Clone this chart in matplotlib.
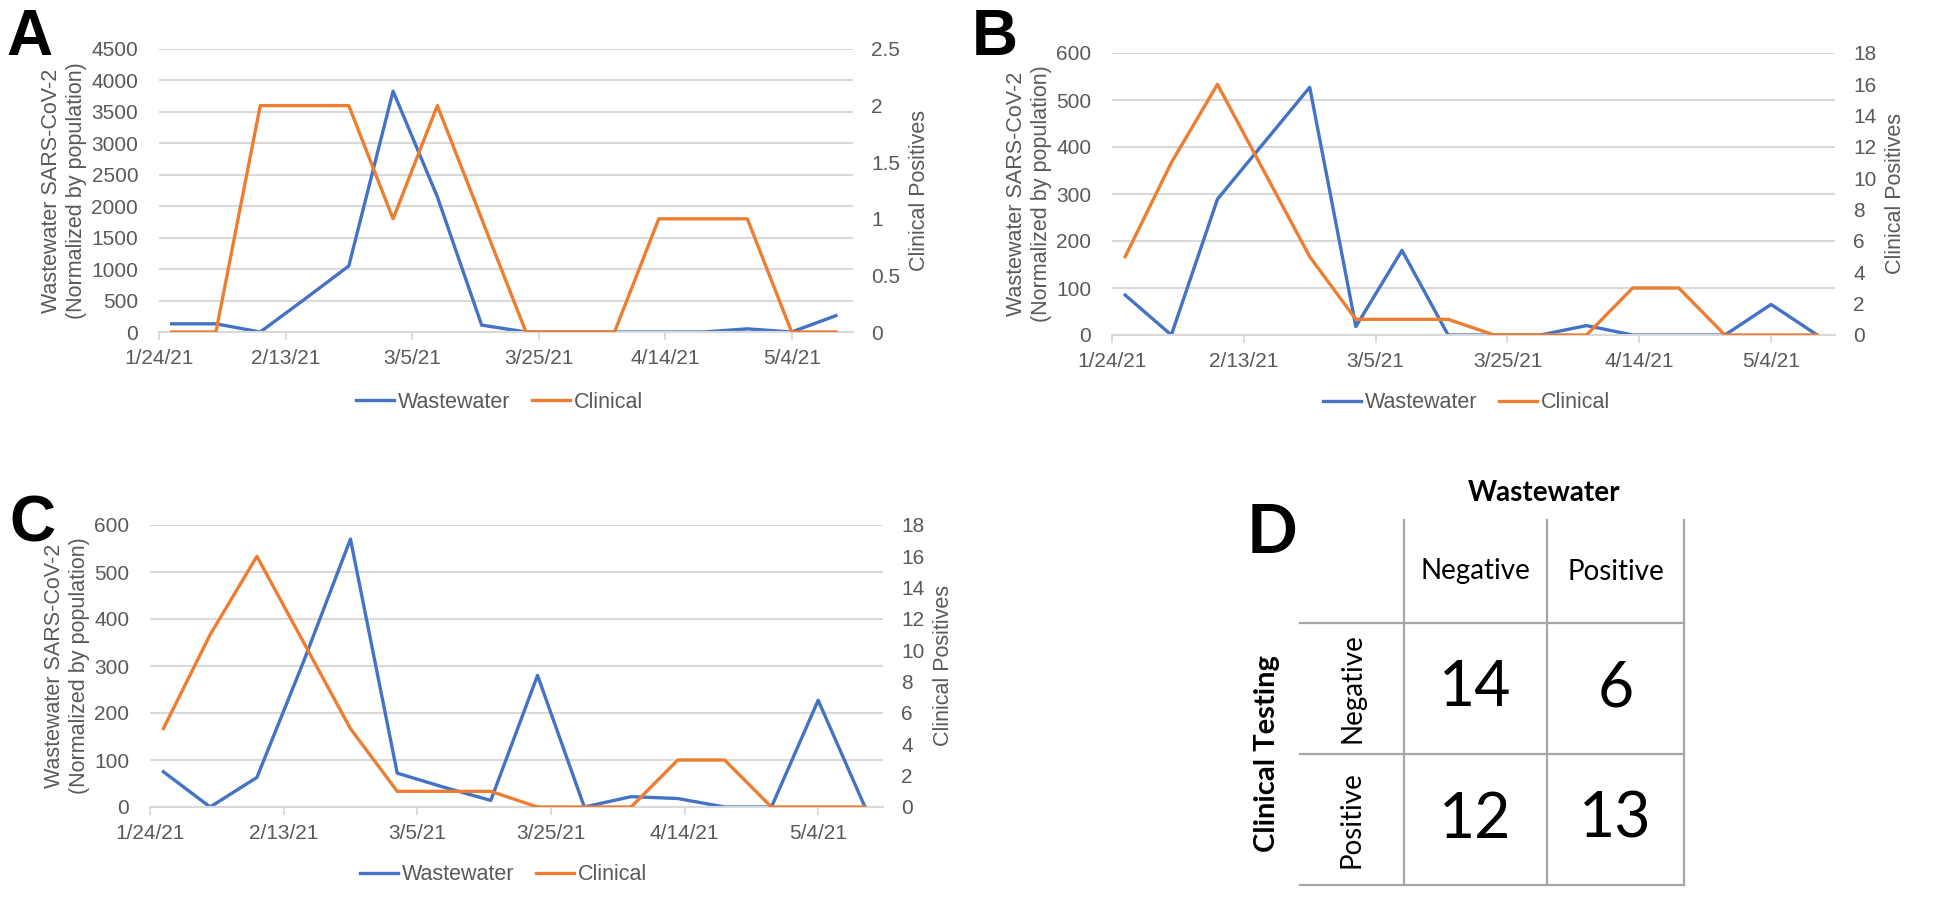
import matplotlib
matplotlib.use("Agg")
import matplotlib.pyplot as plt
import pandas as pd

plt.rcParams['font.family'] = ['Liberation Sans', 'DejaVu Sans']

# weekly sampling dates shared by the three sites
sample_dates = ["1/26/21", "2/2/21", "2/9/21", "2/16/21", "2/23/21", "3/2/21", "3/9/21", "3/16/21",
                "3/23/21", "3/30/21", "4/6/21", "4/13/21", "4/20/21", "4/27/21", "5/4/21", "5/11/21"]
date_ticks = ["1/24/21", "2/13/21", "3/5/21", "3/25/21", "4/14/21", "5/4/21"]

# A
a_wastewater = [130, 130, 0, 520, 1050, 3830, 2150, 110, 0, 0, 0, 0, 0, 50, 0, 260]
a_clinical = [0, 0, 2, 2, 2, 1, 2, 1, 0, 0, 0, 1, 1, 1, 0, 0]
a_left_ticks = [0, 500, 1000, 1500, 2000, 2500, 3000, 3500, 4000, 4500]
a_right_ticks = [0, 0.5, 1, 1.5, 2, 2.5]
a_right_labels = ["0", "0.5", "1", "1.5", "2", "2.5"]

# B
b_wastewater = [85, 0, 289, 408, 527, 18, 180, 0, 0, 0, 20, 0, 0, 0, 65, 0]
b_clinical = [5, 11, 16, 10.5, 5, 1, 1, 1, 0, 0, 0, 3, 3, 0, 0, 0]

# C
c_wastewater = [75, 0, 63, 310, 570, 72, 42, 14, 280, 0, 22, 18, 0, 0, 227, 0]
c_clinical = [5, 11, 16, 10.5, 5, 1, 1, 1, 0, 0, 0, 3, 3, 0, 0, 0]

bc_left_ticks = [0, 100, 200, 300, 400, 500, 600]
bc_right_ticks = [0, 2, 4, 6, 8, 10, 12, 14, 16, 18]
bc_right_labels = [str(t) for t in bc_right_ticks]

# D  (rows: clinical testing, cols: wastewater)
d_levels = ["Negative", "Positive"]
d_counts = [[14, 6],
            [12, 13]]

BLUE = "#4472C4"
ORANGE = "#ED7D31"
TXT = "#595959"
GRID = "#D9D9D9"
W, H = 1950, 906

dates = pd.to_datetime(sample_dates, format="%m/%d/%y")
tick_pos = pd.to_datetime(date_ticks, format="%m/%d/%y")
x_start = pd.Timestamp("2021-01-24")
x_end = x_start + pd.Timedelta(days=109.7)

fig = plt.figure(figsize=(19.5, 9.06), dpi=100)

# canvas in pixel units for the table and panel letters
axd = fig.add_axes([0, 0, 1, 1])
axd.set_xlim(0, W)
axd.set_ylim(H, 0)
axd.axis("off")


def panel(px, ww, cl, lticks, rticks, rlabels, leg_xy, letter, letter_xy):
    x0, y_top, x1, y_bot = px
    ax = fig.add_axes([x0 / W, 1 - y_bot / H, (x1 - x0) / W, (y_bot - y_top) / H])
    ax2 = ax.twinx()
    l1, = ax.plot(dates, ww, color=BLUE, lw=2.4)
    l2, = ax2.plot(dates, cl, color=ORANGE, lw=2.4)

    ax.set_xlim(x_start, x_end)
    ax.set_ylim(0, lticks[-1])
    ax.set_yticks(lticks)
    ax2.set_ylim(0, rticks[-1])
    ax2.set_yticks(rticks)
    ax2.set_yticklabels(rlabels)
    ax.set_xticks(tick_pos)
    ax.set_xticklabels(date_ticks)

    ax.grid(axis="y", color=GRID, lw=1.5)
    ax.set_axisbelow(True)
    for s in ax.spines.values():
        s.set_visible(False)
    for s in ax2.spines.values():
        s.set_visible(False)
    ax.spines["bottom"].set_visible(True)
    ax.spines["bottom"].set_color(GRID)
    ax.spines["bottom"].set_linewidth(1.5)

    ax.tick_params(axis="y", length=0, pad=15, labelsize=15, labelcolor=TXT)
    ax2.tick_params(axis="y", length=0, pad=13, labelsize=15, labelcolor=TXT)
    ax.tick_params(axis="x", length=6, width=1.3, color=GRID, pad=6, labelsize=15, labelcolor=TXT)

    ax.set_ylabel("Wastewater SARS-CoV-2\n(Normalized by population)", fontsize=15.5,
                  color=TXT, labelpad=3, linespacing=1.25)
    ax2.set_ylabel("Clinical Positives", fontsize=15.5, color=TXT, labelpad=6)

    fig.legend(handles=[l1, l2], labels=["Wastewater", "Clinical"], loc="center",
               bbox_to_anchor=(leg_xy[0] / W, 1 - leg_xy[1] / H), ncol=2, frameon=False,
               fontsize=15.5, handlelength=1.75, handletextpad=0.2, columnspacing=1.0,
               labelcolor=TXT)

    axd.text(letter_xy[0], letter_xy[1], letter, fontsize=46, fontweight="bold",
             ha="left", va="baseline", color="black")


panel((159, 49, 853, 332), a_wastewater, a_clinical, a_left_ticks, a_right_ticks,
      a_right_labels, (500, 402), "A", (6, 55))
panel((1112, 53, 1835, 335), b_wastewater, b_clinical, bc_left_ticks, bc_right_ticks,
      bc_right_labels, (1467, 403), "B", (972, 55))
panel((150, 525, 883, 807), c_wastewater, c_clinical, bc_left_ticks, bc_right_ticks,
      bc_right_labels, (504, 875), "C", (9, 542))

# D: 2x2 contingency table
col_edges = [1404, 1547, 1684]
row_edges = [623, 754, 885]
tbl_top, tbl_left = 520, 1300
line_kw = dict(color="#A6A6A6", lw=1.6)
for xe in col_edges:
    axd.plot([xe, xe], [tbl_top, row_edges[-1]], **line_kw)
for ye in row_edges:
    axd.plot([tbl_left, col_edges[-1]], [ye, ye], **line_kw)

dfont = ["Lato", "DejaVu Sans"]
axd.text((col_edges[0] + col_edges[-1]) / 2, 493, "Wastewater", fontsize=20, fontweight="bold",
         ha="center", va="center", family=dfont)
axd.text(1267, (row_edges[0] + row_edges[-1]) / 2, "Clinical Testing", fontsize=21,
         fontweight="bold", rotation=90, ha="center", va="center", family=dfont)
for j, lab in enumerate(d_levels):
    axd.text((col_edges[j] + col_edges[j + 1]) / 2, (tbl_top + row_edges[0]) / 2, lab,
             fontsize=20, ha="center", va="center", family=dfont)
for i, lab in enumerate(d_levels):
    axd.text((tbl_left + col_edges[0]) / 2, (row_edges[i] + row_edges[i + 1]) / 2, lab,
             fontsize=20, rotation=90, ha="center", va="center", family=dfont)
for i in range(2):
    for j in range(2):
        axd.text((col_edges[j] + col_edges[j + 1]) / 2, (row_edges[i] + row_edges[i + 1]) / 2,
                 str(d_counts[i][j]), fontsize=45, ha="center", va="center", family=dfont)
axd.text(1247, 553, "D", fontsize=48, fontweight="bold", ha="left", va="baseline",
         family=dfont)

fig.savefig("out.png", dpi=100)
